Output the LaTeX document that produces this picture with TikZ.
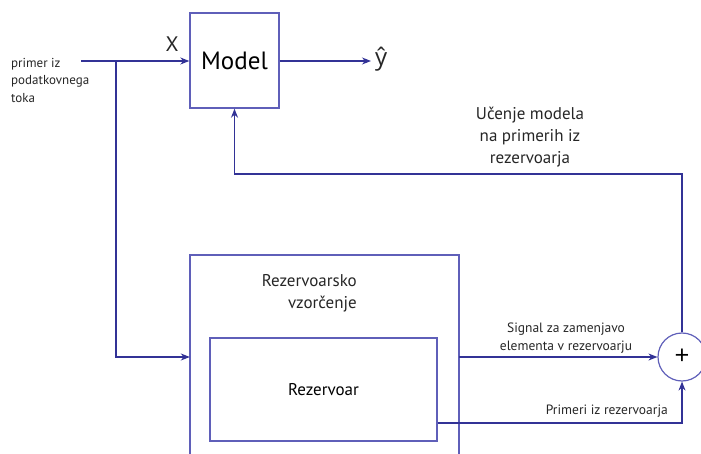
\documentclass[tikz,border=0pt]{standalone}
\usepackage{fontspec}
\setmainfont{PT Sans}
\newfontfamily\yfont{Open Sans}
\usetikzlibrary{arrows.meta}
\definecolor{boxc}{RGB}{95,95,185}
\definecolor{linec}{RGB}{50,50,150}
\tikzset{
  x=1pt,y=-1pt,
  blk/.style={draw=boxc,line width=1.4pt,rectangle,inner sep=0pt},
  conn/.style={draw=linec,line width=1.1pt,-{Stealth[length=9pt,width=7pt]}},
  lbl/.style={inner sep=0pt,text=black!85},
}
\begin{document}
\begin{tikzpicture}
\useasboundingbox (0,0) rectangle (701,454);
% blocks
\node[blk,minimum width=89pt,minimum height=95pt,font=\fontsize{25}{28}\selectfont] (model) at (234.5,60.5) {Model};
\path[blk,draw=boxc] (190,470) -- (190,255) -- (459,255) -- (459,470);
\node[inner sep=0pt,minimum width=269pt,minimum height=215pt] (outer) at (324.5,362.5) {};
\node[blk,minimum width=227pt,minimum height=103pt,font=\fontsize{17}{20}\selectfont] (inner) at (323.5,389.5) {Rezervoar};
\node[draw=boxc,line width=1.2pt,circle,minimum size=48pt,inner sep=0pt,font=\yfont\fontsize{26}{30}\selectfont] (sum) at (682,357) {+};
% labels
\node[lbl,anchor=west,align=left,font=\fontsize{13}{17.5}\selectfont] (inp) at (11,80) {primer iz\\podatkovnega\\toka};
\node[lbl,font=\fontsize{21}{24}\selectfont] (xl) at (172,44) {X};
\node[lbl,anchor=west,font=\yfont\fontsize{24}{28}\selectfont] (yhat) at (375,59) {ŷ};
\node[lbl,align=center,font=\fontsize{17}{22}\selectfont] (learn) at (530,137) {Učenje modela\\na primerih iz\\rezervoarja};
\node[lbl,align=right,anchor=east,font=\fontsize{17}{22}\selectfont] (rvz) at (357,293) {Rezervoarsko\\vzorčenje};
\node[lbl,align=center,font=\fontsize{13.5}{18}\selectfont] (sig) at (566,338) {Signal za zamenjavo\\elementa v rezervoarju};
\node[lbl,anchor=east,font=\fontsize{13.5}{18}\selectfont] (prim) at (668,411) {Primeri iz rezervoarja};
% coordinates
\coordinate (start) at (81,61);
\coordinate (br) at (116,61);
\coordinate (fb) at (682,174);
\coordinate (pr) at (682,423);
% connectors
\draw[conn] (start) -- (model.west |- start);
\draw[conn] (br) |- (outer.west |- sum);
\draw[conn] (model.east |- start) -- ([xshift=-4pt]yhat.west |- start);
\draw[conn] (sum.north) -- (fb) -| (model.south);
\draw[conn] (outer.east |- sum) -- (sum.west);
\draw[conn] (inner.east |- pr) -- (pr) -- (sum.south);
\end{tikzpicture}
\end{document}
